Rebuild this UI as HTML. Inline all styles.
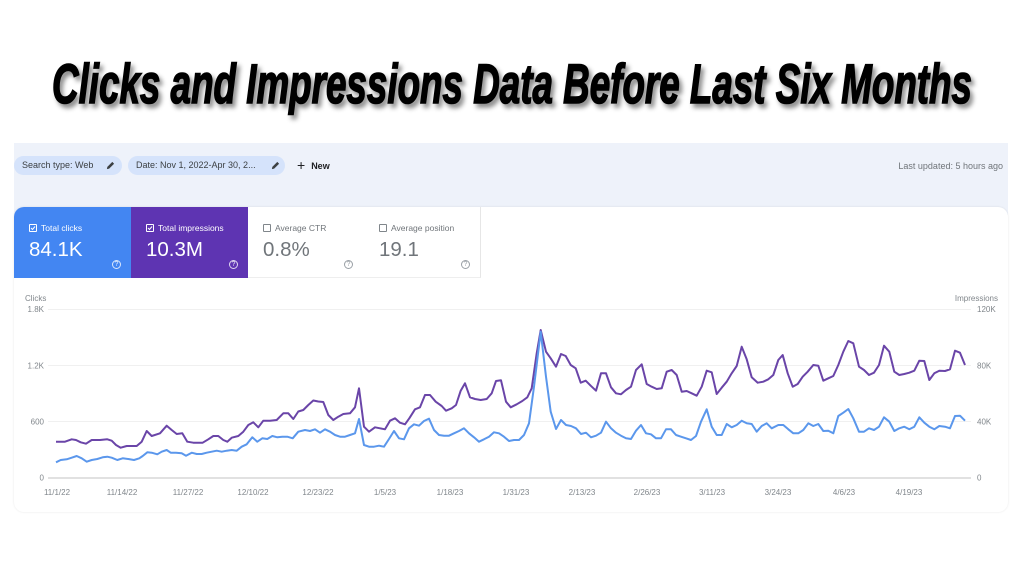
<!DOCTYPE html>
<html><head><meta charset="utf-8"><style>
*{margin:0;padding:0;box-sizing:border-box}
html,body{width:1024px;height:576px;background:#fff;overflow:hidden;font-family:"Liberation Sans",Arial,sans-serif}
.a{position:absolute}
.bar{left:14px;top:143px;width:994px;height:72px;background:#eef2fa}
.panel{left:14px;top:207px;width:994px;height:305px;background:#fff;border-radius:10px;box-shadow:0 0 2px rgba(0,0,0,.10)}
.chip{top:156px;height:19px;border-radius:10px;background:#d5e3fb;color:#3c4043;font-size:9px;line-height:19px;padding-left:8px;white-space:nowrap}
.pen{position:absolute;top:5px;width:9px;height:9px}
.mc{top:207px;height:71px;width:117px}
.lab{position:absolute;left:15px;top:16px;font-size:8.5px;white-space:nowrap}
.cb{display:inline-block;width:8px;height:8px;border:1px solid;border-radius:1px;vertical-align:-1px;margin-right:4px;position:relative}
.val{position:absolute;left:15px;top:31px;font-size:20.5px;white-space:nowrap}
.help{position:absolute;left:98px;top:53px;width:9px;height:9px;border:1px solid;border-radius:50%;font-size:7px;line-height:7px;text-align:center}
</style></head><body>

<svg class="a" style="left:0;top:0" width="1024" height="130">
<text x="52" y="103" textLength="920" lengthAdjust="spacingAndGlyphs" font-family="Liberation Sans" font-weight="bold" font-style="italic" font-size="56" fill="#000" stroke="#000" stroke-width="1.6" style="filter:drop-shadow(3px 4px 2.5px rgba(0,0,0,.45))">Clicks and Impressions Data Before Last Six Months</text>
</svg>

<div class="a bar"></div>
<div class="a panel"></div>

<div class="a chip" style="left:14px;width:108px">Search type: Web
<svg class="pen" style="left:92px" viewBox="0 0 10 10"><path d="M1 9 L1.5 6.5 L7 1 L9 3 L3.5 8.5 Z" fill="#3c4043"/></svg></div>
<div class="a chip" style="left:128px;width:157px">Date: Nov 1, 2022-Apr 30, 2...
<svg class="pen" style="left:143px" viewBox="0 0 10 10"><path d="M1 9 L1.5 6.5 L7 1 L9 3 L3.5 8.5 Z" fill="#3c4043"/></svg></div>
<div class="a" style="left:297px;top:156px;height:19px;line-height:19px;font-size:9px;color:#202124;font-weight:bold;white-space:nowrap"><span style="font-size:14px;font-weight:normal;vertical-align:-1px;margin-right:6px">+</span>New</div>
<div class="a" style="right:21px;top:161px;font-size:9px;color:#70757a;white-space:nowrap">Last updated: 5 hours ago</div>

<div class="a mc" style="left:14px;background:#4386f2;border-top-left-radius:10px;color:#fff">
<div class="lab"><span class="cb" style="border-color:#fff"><svg style="position:absolute;left:0;top:0" width="6" height="6" viewBox="0 0 6 6"><path d="M1 3 L2.5 4.5 L5 1.5" stroke="#fff" stroke-width="1" fill="none"/></svg></span>Total clicks</div>
<div class="val">84.1K</div><div class="help" style="border-color:rgba(255,255,255,.8);color:rgba(255,255,255,.9)">?</div></div>

<div class="a mc" style="left:131px;background:#5e34b2;color:#fff">
<div class="lab"><span class="cb" style="border-color:#fff"><svg style="position:absolute;left:0;top:0" width="6" height="6" viewBox="0 0 6 6"><path d="M1 3 L2.5 4.5 L5 1.5" stroke="#fff" stroke-width="1" fill="none"/></svg></span>Total impressions</div>
<div class="val">10.3M</div><div class="help" style="border-color:rgba(255,255,255,.8);color:rgba(255,255,255,.9)">?</div></div>

<div class="a mc" style="left:248px;background:#fff;color:#70757a;border-right:1px solid #e6e6e6;border-bottom:1px solid #eee">
<div class="lab"><span class="cb" style="border-color:#80868b"></span>Average CTR</div>
<div class="val">0.8%</div><div class="help" style="border-color:#9aa0a6;color:#9aa0a6;left:96px">?</div></div>

<div class="a mc" style="left:364px;background:#fff;color:#70757a;border-right:1px solid #e6e6e6;border-bottom:1px solid #eee">
<div class="lab"><span class="cb" style="border-color:#80868b"></span>Average position</div>
<div class="val">19.1</div><div class="help" style="border-color:#9aa0a6;color:#9aa0a6;left:97px">?</div></div>

<svg class="a" style="left:0;top:0" width="1024" height="576" font-family="Liberation Sans, Arial, sans-serif">
<g stroke="#f0f0f0" stroke-width="1">
<line x1="48" y1="309.5" x2="971" y2="309.5"/>
<line x1="48" y1="365.5" x2="971" y2="365.5"/>
<line x1="48" y1="421.5" x2="971" y2="421.5"/>
</g>
<line x1="48" y1="478" x2="971" y2="478" stroke="#cfcfcf" stroke-width="1.3"/>
<g font-size="8" fill="#80868b">
<text x="25" y="301">Clicks</text>
<g text-anchor="end">
<text x="44" y="312">1.8K</text>
<text x="44" y="368.5">1.2K</text>
<text x="44" y="424.5">600</text>
<text x="44" y="480.5">0</text>
<text x="998" y="301">Impressions</text>
</g>
<text x="977" y="312">120K</text>
<text x="977" y="368.5">80K</text>
<text x="977" y="424.5">40K</text>
<text x="977" y="480.5">0</text>
<g text-anchor="middle">
<text x="57" y="495">11/1/22</text>
<text x="122" y="495">11/14/22</text>
<text x="188" y="495">11/27/22</text>
<text x="253" y="495">12/10/22</text>
<text x="318" y="495">12/23/22</text>
<text x="385" y="495">1/5/23</text>
<text x="450" y="495">1/18/23</text>
<text x="516" y="495">1/31/23</text>
<text x="582" y="495">2/13/23</text>
<text x="647" y="495">2/26/23</text>
<text x="712" y="495">3/11/23</text>
<text x="778" y="495">3/24/23</text>
<text x="844" y="495">4/6/23</text>
<text x="909" y="495">4/19/23</text>
</g>
</g>
<polyline fill="none" stroke="#6a45a8" stroke-width="2" stroke-linejoin="round" points="56,441.7 65,441.7 71.7,439.3 76,440 80.7,442.3 86,443.7 91.7,440 100,440 107.3,439.3 111.7,440.7 116,445 120.7,447.7 126.7,446 136.7,446 141.7,441.7 146.7,431 151.7,436 160,433.3 166.7,425.7 171.7,430 176.7,434 182.3,433.3 187.3,441.7 193.3,442.7 202.7,442.7 208.3,439.3 213.3,436 218.3,436 223.3,440 227.3,441.7 231.7,437.7 238.3,436 243.3,431.7 248.3,425 253.3,422.3 258.3,427.3 263.3,420.7 270,420.7 276.7,420 283.3,413.3 288.3,413.3 293.3,419 298.3,411.5 303.3,410 308.3,405 313.3,400.5 318.3,401.5 323.3,402 328.3,415 333.3,420 338.3,416.7 343.3,414 350,413.3 355,407.3 359,388.3 364,426.7 369,431.7 375,427.3 380,428.3 385,429.3 390,420.7 395,418.3 400,422.7 405,424.3 409.3,418.3 415,409.3 420,407.3 425,395 430,395 435.7,401.7 441.7,406 446,410.7 451.7,408.3 456,405 460.7,390.7 465,383.3 470,397.3 475,399 480.7,400 486.7,399 491.7,393.3 496,381 501,380.3 506,401.7 510.7,407.3 516.7,404.3 522.3,401 527.3,397.3 531.7,388.3 536.7,353.3 540.7,330 546,351.7 550.7,358.3 556,366.7 561,354 565.7,356 570.7,365 575.7,368.3 580.7,382.7 585.7,380.7 590.7,385.7 596,390.7 601,373.3 606,373.3 611,387.3 616,393.3 621,394.3 626,390 631,386.7 636,370 641.7,364.3 646.7,384 651.7,386.7 656.7,389 661.7,388.3 666.7,371.7 671.7,370 676.7,375 681.7,391.7 686.7,391 691.7,393.3 696.7,395.7 701.7,386.7 706.7,370.7 711.7,372.3 716.7,394 721.7,387.7 726.7,381.7 731.7,373.3 736.7,366 741.7,346.7 746.7,359.3 751.7,377.3 757.7,382.7 763.3,381.7 768.3,379.3 773.3,375 778.3,360 782.7,355 787.7,373.3 792.7,386.7 797.7,384 802.7,376.7 807.7,371.7 813.3,365 818.3,365.7 823.3,380.7 828.3,378.3 833.3,376 838.3,365 843.3,351.7 848.3,341 853.3,343.3 859,366.7 864,370 869,375 874,372.7 879,365 884,345.7 889.3,351.7 894.3,371.7 899.3,375 904.3,374 909.3,372.7 914.3,370.7 919.3,360.7 924.3,361 929.3,380 934.3,373.3 939.3,370.7 945,371 950,369.3 955,350.7 960,352.7 965,365"/>
<polyline fill="none" stroke="#5b97ec" stroke-width="2" stroke-linejoin="round" points="56,462.3 60.7,460 66.7,459.3 71.7,457.7 76.7,456 81.7,458.3 86.7,461.7 91.7,460 97.3,459 102.7,457.3 107.3,456.7 111.7,457.7 117.3,460 122.7,458.3 128.3,459 134,460 139.3,458.3 142.7,456 147.3,452.3 151.7,452.7 157.3,454.3 161.7,451.7 166.7,450 170.7,452.7 176,452.7 181.7,453.3 186,455.7 191.7,452.7 196.7,454 201.7,454 206.7,452.7 211.7,451.7 216.7,450.7 221.7,451.7 226.7,450.7 231.7,450 236.7,450.7 241.7,446.7 246.7,444.3 252.3,437.3 257.3,441.7 262.3,438.3 267.3,439 272.3,436 277.3,437.3 282.3,436.7 287.3,436.7 292.7,438.3 298.3,431.7 305,430 310,431 315,429.3 320,432.7 325,429.3 330,431.7 335,435 340,436.7 345,436.7 350,435 355,433.3 359,419 364,445 369,446.7 374,446.7 379,445.7 384,446.7 389,439 394,431 399,438.3 404,439.3 409,428.3 414,424.3 419,425.7 424,421 429,418.7 434,430 439,435 444,435.7 449,435.7 454,433.3 459,431 464,428.3 469,433.3 474,437.3 479,441.7 484,439.3 489,436.7 494,432.3 499,433.3 504,436.7 509,441 514,440 519,440 524,435 529,423.3 534,386.7 540.7,331.7 546,376.7 550.7,411.7 556,429 561,420 566,425 571,426 576,428.3 581,434 586,432.7 591,437.3 596,435.7 601,432.7 606,421.7 611,428.3 616,432.7 621,435.7 626,438.3 631,439 636,430.7 641,425 646,433.3 651,434.3 656,438.3 661,438.3 666,429.3 671,429.3 676,435 681,436.7 686,438.3 691,440 696,436 701,421.7 706.7,409.3 711.7,426.7 716.7,435 721.7,435 726.7,424 731.7,427.3 736.7,425 741.7,420.7 746.7,423.3 751.7,424 756.7,431.7 761.7,426 766.7,423.3 771.7,428.3 778.3,425 783.3,425 788.3,429.3 793.3,433.3 798.3,433.3 803.3,430 808.3,423.3 813.3,426 818.3,424 823.3,431 828.3,430.7 833.3,433.3 838.3,416 843.3,412.7 848.3,409 853.3,418.3 859,431.7 864,431.7 869,428.3 874,430 879,426.7 884,417.3 889.3,421.7 894.3,431 899.3,428.3 904.3,426.7 909.3,429.3 914.3,426.7 919.3,417.3 924.3,422.7 929.3,426.7 934.3,429.3 939.3,426 945,426.7 950,428.3 955,416 960,415.7 965,420.7"/>
</svg>
</body></html>
